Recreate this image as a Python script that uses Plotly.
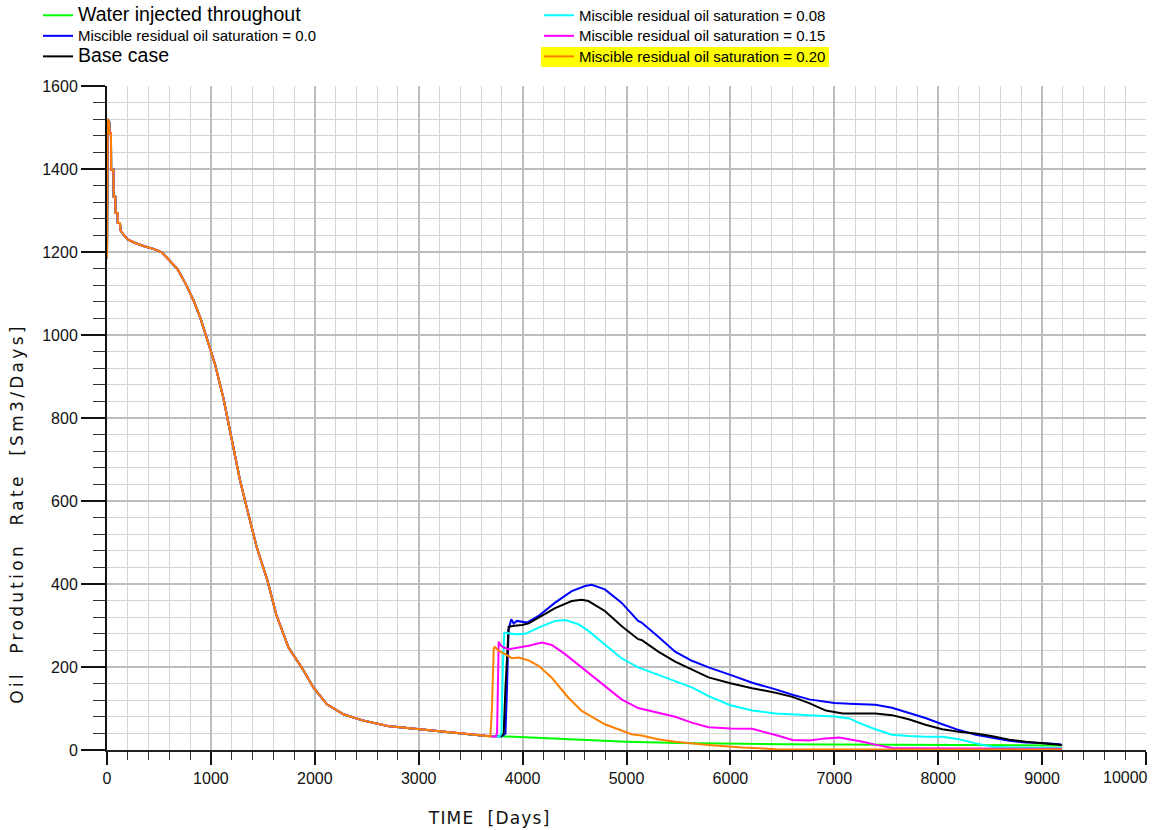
import plotly.graph_objects as go

# ---------------- data ----------------
# common history shared by every case until the injection change
base_t = [0, 0, 6, 22, 25, 38, 40, 62, 65, 80, 82, 102, 104, 125, 130, 150, 195, 260,
          357, 455, 526, 600, 680, 760, 830, 900, 955, 1040, 1120, 1184, 1248, 1281,
          1361, 1442, 1545, 1628, 1747, 1876, 1988, 2117, 2276, 2450, 2700, 3000,
          3400, 3650]
base_v = [1185, 1513, 1520, 1513, 1486, 1486, 1398, 1398, 1333, 1333, 1294, 1294, 1270,
          1270, 1252, 1245, 1231, 1223, 1214, 1207, 1199, 1180, 1158, 1122, 1085, 1040,
          997, 929, 848, 767, 687, 649, 568, 488, 408, 327, 247, 198, 150, 110, 86, 72,
          58, 50, 40, 34]

water_t = [3800, 4000, 4500, 5000, 5500, 6000, 6500, 7000, 8000, 9190]
water_v = [33, 31, 26, 20, 17, 15, 14, 13, 12, 11]

sor00_t = [3800, 3835, 3850, 3865, 3880, 3891, 3914, 3946, 4042, 4153, 4313, 4473, 4601,
           4665, 4792, 4952, 5112, 5145, 5306, 5468, 5629, 5790, 6000, 6210, 6435, 6597,
           6758, 7000, 7200, 7394, 7555, 7716, 7877, 8039, 8200, 8361, 8523, 8684, 8845,
           9006, 9168, 9190]
sor00_v = [33, 40, 150, 290, 305, 315, 305, 311, 307, 323, 355, 383, 395, 398, 387, 355,
           311, 307, 273, 237, 215, 199, 181, 162, 146, 133, 122, 113, 111, 109, 102, 90,
           77, 62, 48, 37, 29, 22, 18, 17, 14, 12]

base_case_t = [3790, 3818, 3835, 3855, 3866, 3900, 3994, 4058, 4153, 4313, 4473, 4569,
               4633, 4792, 4952, 5112, 5145, 5306, 5468, 5629, 5790, 6000, 6210, 6435,
               6597, 6758, 6919, 7081, 7394, 7555, 7716, 7877, 8039, 8200, 8361, 8523,
               8684, 8845, 9006, 9168, 9190]
base_case_v = [33, 40, 150, 270, 297, 299, 301, 305, 319, 342, 359, 362, 359, 335, 299,
               267, 265, 237, 213, 194, 175, 161, 149, 138, 128, 113, 95, 88, 88, 84, 74,
               61, 50, 44, 40, 33, 25, 20, 17, 14, 12]

sor08_t = [3780, 3796, 3810, 3824, 3930, 4026, 4153, 4313, 4409, 4537, 4633, 4792, 4952,
           5112, 5306, 5468, 5629, 5790, 6000, 6210, 6435, 6758, 7000, 7145, 7232, 7394,
           7555, 7716, 7877, 8039, 8200, 8361, 8523, 8684, 9190]
sor08_v = [33, 40, 200, 283, 279, 280, 295, 311, 313, 303, 287, 255, 221, 199, 181, 165,
           151, 130, 108, 95, 88, 84, 81, 76, 66, 50, 37, 34, 32, 32, 26, 16, 8, 6, 5]

sor15_t = [3740, 3754, 3765, 3770, 3790, 3818, 3866, 3962, 4058, 4185, 4281, 4409, 4537,
           4633, 4792, 4952, 5112, 5306, 5468, 5629, 5790, 6000, 6210, 6435, 6597, 6758,
           6919, 7048, 7210, 7274, 7394, 7555, 7716, 9190]
sor15_v = [32, 40, 200, 261, 252, 247, 243, 247, 251, 259, 253, 231, 205, 186, 154, 122,
           101, 90, 80, 66, 55, 52, 51, 36, 24, 23, 28, 30, 24, 20, 13, 5, 4, 3]

sor20_t = [3690, 3705, 3715, 3722, 3732, 3770, 3834, 3898, 3962, 4058, 4153, 4281, 4441,
           4569, 4792, 5048, 5145, 5300, 5468, 5790, 6113, 6435, 7000, 9190]
sor20_v = [33, 100, 220, 245, 248, 239, 231, 221, 223, 216, 203, 174, 126, 94, 62, 38,
           35, 26, 20, 12, 6, 2, 1, 1]

names = ["Water injected throughout",
         "Miscible residual oil saturation = 0.0",
         "Base case",
         "Miscible residual oil saturation = 0.08",
         "Miscible residual oil saturation = 0.15",
         "Miscible residual oil saturation = 0.20"]
colors = ["#00FF00", "#0000FF", "#000000", "#00FFFF", "#FF00FF", "#FF8000"]
name_sizes = [19.5, 15, 19.5, 15, 15, 15]
legend_ids = ["legend", "legend", "legend", "legend2", "legend2", "legend2"]
tails = [(water_t, water_v), (sor00_t, sor00_v), (base_case_t, base_case_v),
         (sor08_t, sor08_v), (sor15_t, sor15_v), (sor20_t, sor20_v)]

x_tick_vals = [0, 1000, 2000, 3000, 4000, 5000, 6000, 7000, 8000, 9000, 10000]
x_tick_text = ["0", "1000", "2000", "3000", "4000", "5000", "6000", "7000", "8000",
               "9000", "10000"]

fig = go.Figure()
for name, col, fs, lg, (tt, vv) in zip(names, colors, name_sizes, legend_ids, tails):
    fig.add_trace(go.Scatter(
        x=base_t + tt, y=base_v + vv, mode="lines",
        name=f'<span style="font-size:{fs}px">{name}</span>',
        line=dict(color=col, width=2), legend=lg))

# ---------------- layout ----------------
W, H = 1155, 830
ML, MR, MT, MB = 107, 9, 86, 80
pw, ph = W - ML - MR, H - MT - MB

def px(x):
    return (x - ML) / pw

def py(y):
    return (H - MB - y) / ph

xtick_font = dict(family="Liberation Sans Narrow, Arial Narrow, sans-serif",
                  size=16, color="#111")
# the last label sits against the page edge, so it is placed as an annotation
ticktext = x_tick_text[:-1] + [""]

leg_font = dict(family="Liberation Sans, Arial, sans-serif", size=13.5, color="#000")
fig.update_layout(
    width=W, height=H,
    margin=dict(l=ML, r=MR, t=MT, b=MB, autoexpand=False),
    paper_bgcolor="white", plot_bgcolor="white",
    legend=dict(x=px(38), y=py(0), xanchor="left", yanchor="top",
                bgcolor="rgba(0,0,0,0)", font=leg_font, tracegroupgap=0,
                borderwidth=0),
    legend2=dict(x=px(539), y=py(0), xanchor="left", yanchor="top",
                 bgcolor="rgba(0,0,0,0)", font=leg_font, tracegroupgap=0,
                 borderwidth=0),
    xaxis=dict(range=[0, 10000], tickmode="array", tickvals=x_tick_vals,
               ticktext=ticktext, showgrid=True,
               gridcolor="#bdbdbd", gridwidth=1.5, zeroline=False,
               showline=True, linecolor="#222", linewidth=2,
               ticks="outside", ticklen=13, tickwidth=2, tickcolor="#111",
               tickfont=xtick_font,
               minor=dict(dtick=200, tick0=0, showgrid=True, gridcolor="#d4d4d4",
                          gridwidth=1, ticks="outside", ticklen=8, tickwidth=1,
                          tickcolor="#333")),
    yaxis=dict(range=[0, 1600], tick0=0, dtick=200, tickformat="d", showgrid=True,
               gridcolor="#bdbdbd", gridwidth=1.5, zeroline=False,
               showline=True, linecolor="#111", linewidth=2,
               ticks="outside", ticklen=24, tickwidth=2, tickcolor="#111",
               tickfont=dict(family="Liberation Sans, Arial, sans-serif", size=16,
                             color="#111"),
               minor=dict(dtick=40, tick0=0, showgrid=True, gridcolor="#d4d4d4",
                          gridwidth=1, ticks="outside", ticklen=12, tickwidth=1,
                          tickcolor="#333")),
    shapes=[dict(type="rect", xref="paper", yref="paper",
                 x0=px(541), x1=px(829), y0=py(67), y1=py(47),
                 fillcolor="#FFFF00", line=dict(width=0), layer="above")],
    annotations=[
        dict(text="TIME\u00a0\u00a0[Days]", xref="paper", yref="paper",
             x=px(489), y=py(818), xanchor="center", yanchor="middle",
             showarrow=False,
             font=dict(family="DejaVu Sans, sans-serif", size=17, color="#111")),
        dict(text="Oil\u00a0\u00a0Prodution\u00a0\u00a0Rate\u00a0\u00a0[Sm3/Days]",
             xref="paper", yref="paper", x=px(17), y=py(514),
             xanchor="center", yanchor="middle", textangle=-90, showarrow=False,
             font=dict(family="DejaVu Sans, sans-serif", size=17, color="#111")),
        dict(text=x_tick_text[-1], xref="paper", yref="paper",
             x=px(1150), y=py(777), xanchor="right", yanchor="middle",
             showarrow=False, font=xtick_font),
    ],
)

post = """
var spac = ['1.2', '3.3', '0'];
document.querySelectorAll('.annotation-text').forEach(function(t, i){
  t.setAttribute('letter-spacing', spac[i] || '0');
});
"""
fig.write_html("out.html", post_script=post)
